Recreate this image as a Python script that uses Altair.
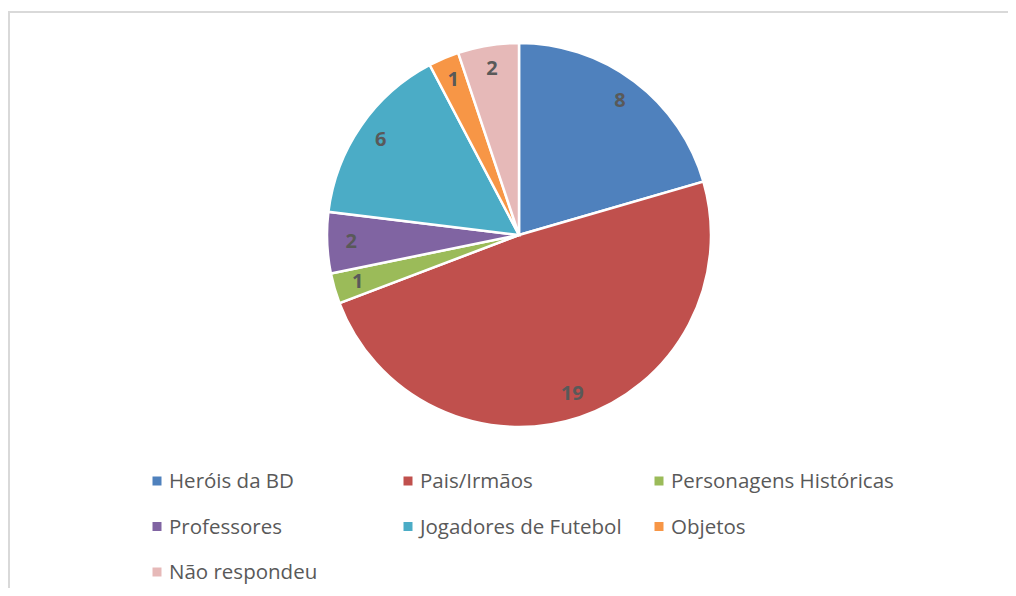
import altair as alt
import pandas as pd

categories = ["Heróis da BD", "Pais/Irmãos", "Personagens Históricas", "Professores",
              "Jogadores de Futebol", "Objetos", "Não respondeu"]
values = [8, 19, 1, 2, 6, 1, 2]
colors = ["#4F81BD", "#C0504D", "#9BBB59", "#8064A2", "#4BACC6", "#F79646", "#E6B9B8"]

df = pd.DataFrame({
    "cat": categories,
    "value": values,
    "idx": list(range(len(categories))),
    "col": [i % 3 for i in range(len(categories))],
    "row": [i // 3 for i in range(len(categories))],
})

FONT = "Open Sans"
CX, CY, R = 511, 227, 192

color = alt.Color("cat:N", scale=alt.Scale(domain=categories, range=colors), legend=None)
base = alt.Chart(df)

pie = base.mark_arc(x=CX, y=CY, outerRadius=R, stroke="white", strokeWidth=2.5).encode(
    theta=alt.Theta("value:Q", stack=True),
    color=color,
    order=alt.Order("idx:Q"),
)

labels = base.mark_text(x=CX, y=CY, radius=168, font=FONT, fontSize=20, fontWeight="bold",
                        color="#595959").encode(
    theta=alt.Theta("value:Q", stack=True),
    text="value:Q",
    order=alt.Order("idx:Q"),
)

xs = alt.X("col:Q", scale=alt.Scale(domain=[0, 2], range=[149, 651]), axis=None)
ys = alt.Y("row:Q", scale=alt.Scale(domain=[0, 2], range=[473, 564]), axis=None)

leg_sym = base.mark_square(size=81, opacity=1).encode(x=xs, y=ys, color=color)
leg_txt = base.mark_text(align="left", baseline="middle", dx=12, dy=1, font=FONT, fontSize=20.5,
                         color="#595959").encode(x=xs, y=ys, text="cat:N")

frame_df = pd.DataFrame({"k": [0]})
top_line = alt.Chart(frame_df).mark_rule(color="#D9D9D9", strokeWidth=2).encode(
    x=alt.value(0), x2=alt.value(1000), y=alt.value(4))
left_line = alt.Chart(frame_df).mark_rule(color="#D9D9D9", strokeWidth=2).encode(
    x=alt.value(1), y=alt.value(3), y2=alt.value(580))

chart = alt.layer(top_line, left_line, pie, labels, leg_sym, leg_txt).properties(
    width=1000, height=580, padding=0,
    autosize=alt.AutoSizeParams(type="none"),
).configure_view(strokeWidth=0)

chart.save("out.html", embed_options={"renderer": "svg", "actions": False})
